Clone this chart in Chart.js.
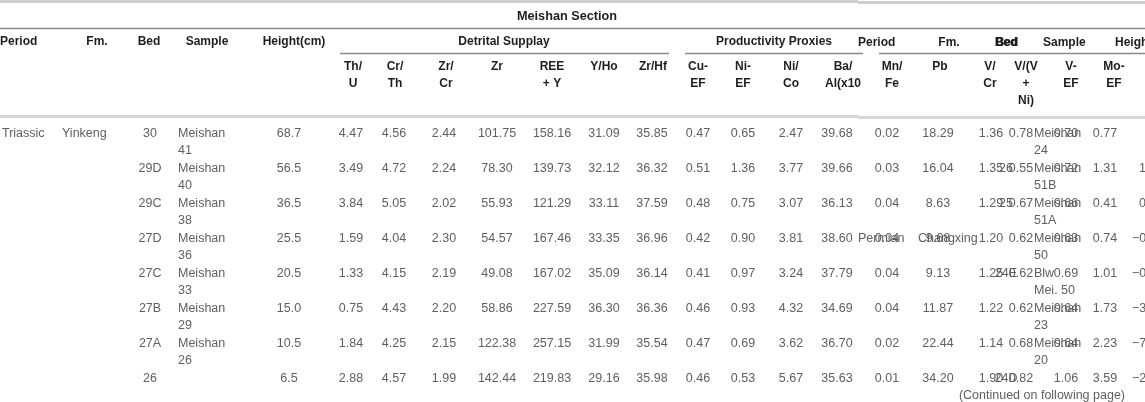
<!DOCTYPE html>
<html>
<head>
<meta charset="utf-8">
<script src="https://cdn.jsdelivr.net/npm/chart.js"></script>
<style>
  html, body { margin: 0; padding: 0; background: #fff; overflow: hidden; }
  #wrap { width: 1145px; height: 402px; }
</style>
</head>
<body>
<div id="wrap"><canvas id="meishan" width="1145" height="402"></canvas></div>
<script>
// Meishan Section - table values (read from the page)
const periods = ["Triassic", "", "", "", "", "", "", ""];
const formations = ["Yinkeng", "", "", "", "", "", "", ""];
const beds = ["30", "29D", "29C", "27D", "27C", "27B", "27A", "26"];
const samples = ["Meishan 41", "Meishan 40", "Meishan 38", "Meishan 36", "Meishan 33", "Meishan 29", "Meishan 26", ""];
const heights = ["68.7", "56.5", "36.5", "25.5", "20.5", "15.0", "10.5", "6.5"];
const thU = ["4.47", "3.49", "3.84", "1.59", "1.33", "0.75", "1.84", "2.88"];
const crTh = ["4.56", "4.72", "5.05", "4.04", "4.15", "4.43", "4.25", "4.57"];
const zrCr = ["2.44", "2.24", "2.02", "2.30", "2.19", "2.20", "2.15", "1.99"];
const zr = ["101.75", "78.30", "55.93", "54.57", "49.08", "58.86", "122.38", "142.44"];
const reeY = ["158.16", "139.73", "121.29", "167.46", "167.02", "227.59", "257.15", "219.83"];
const yHo = ["31.09", "32.12", "33.11", "33.35", "35.09", "36.30", "31.99", "29.16"];
const zrHf = ["35.85", "36.32", "37.59", "36.96", "36.14", "36.36", "35.54", "35.98"];
const cuEF = ["0.47", "0.51", "0.48", "0.42", "0.41", "0.46", "0.47", "0.46"];
const niEF = ["0.65", "1.36", "0.75", "0.90", "0.97", "0.93", "0.69", "0.53"];
const niCo = ["2.47", "3.77", "3.07", "3.81", "3.24", "4.32", "3.62", "5.67"];
const baAl = ["39.68", "39.66", "36.13", "38.60", "37.79", "34.69", "36.70", "35.63"];
const mnFe = ["0.02", "0.03", "0.04", "0.04", "0.04", "0.04", "0.02", "0.01"];
const pb = ["18.29", "16.04", "8.63", "9.68", "9.13", "11.87", "22.44", "34.20"];
const vCr = ["1.36", "1.35", "1.29", "1.20", "1.25", "1.22", "1.14", "1.90"];
const vVNi = ["0.78", "0.55", "0.67", "0.62", "0.62", "0.62", "0.68", "0.82"];
const vEF = ["0.70", "0.72", "0.66", "0.63", "0.69", "0.64", "0.64", "1.06"];
const moEF = ["0.77", "1.31", "0.41", "0.74", "1.01", "1.73", "2.23", "3.59"];

// second page block printed over the right side
const periods2 = ["", "", "", "Permian", "", "", "", ""];
const formations2 = ["", "", "", "Changxing", "", "", "", ""];
const beds2 = ["", "26", "25", "", "24E", "", "", "24D"];
const samples2 = ["Meishan 24", "Meishan 51B", "Meishan 51A", "Meishan 50", "Blw Mei. 50", "Meishan 23", "Meishan 20", ""];
const heights2 = ["", "1", "0", "−0", "−0", "−3", "−7", "−2"];

// layout: column anchor (table units) and alignment
const columns = [
  { values: periods, x: 2, align: "left" },
  { values: formations, x: 62, align: "left" },
  { values: beds, x: 150, align: "center" },
  { values: samples, x: 178, align: "left", wrap: true },
  { values: heights, x: 289, align: "center" },
  { values: thU, x: 351, align: "center" },
  { values: crTh, x: 394, align: "center" },
  { values: zrCr, x: 444, align: "center" },
  { values: zr, x: 497, align: "center" },
  { values: reeY, x: 552, align: "center" },
  { values: yHo, x: 604, align: "center" },
  { values: zrHf, x: 652, align: "center" },
  { values: cuEF, x: 698, align: "center" },
  { values: niEF, x: 743, align: "center" },
  { values: niCo, x: 791, align: "center" },
  { values: baAl, x: 837, align: "center" },
  { values: mnFe, x: 887, align: "center" },
  { values: pb, x: 938, align: "center" },
  { values: vCr, x: 991, align: "center" },
  { values: vVNi, x: 1021, align: "center" },
  { values: vEF, x: 1066, align: "center" },
  { values: moEF, x: 1105, align: "center" },
  { values: periods2, x: 858, align: "left" },
  { values: formations2, x: 918, align: "left" },
  { values: beds2, x: 1006, align: "center" },
  { values: samples2, x: 1034, align: "left", wrap: true },
  { values: heights2, x: 1139, align: "left", hang: true }
];

const headers = [
  { text: "Period", x: 0, y: 42, align: "left" },
  { text: "Fm.", x: 97, y: 42, align: "center" },
  { text: "Bed", x: 149, y: 42, align: "center" },
  { text: "Sample", x: 207, y: 42, align: "center" },
  { text: "Height(cm)", x: 294, y: 42, align: "center" },
  { text: "Detrital Supplay", x: 504, y: 42, align: "center" },
  { text: "Productivity Proxies", x: 774, y: 42, align: "center" },
  { text: "Period", x: 858, y: 43, align: "left" },
  { text: "Fm.", x: 949, y: 43, align: "center" },
  { text: "Bed", x: 1006, y: 43, align: "center" },
  { text: "Bed", x: 1007, y: 43, align: "center" },
  { text: "Sample", x: 1043, y: 43, align: "left" },
  { text: "Height(cm)", x: 1115, y: 43, align: "left" },
  { text: "Th/\nU", x: 353, y: 67, align: "center" },
  { text: "Cr/\nTh", x: 395, y: 67, align: "center" },
  { text: "Zr/\nCr", x: 446, y: 67, align: "center" },
  { text: "Zr", x: 497, y: 67, align: "center" },
  { text: "REE\n+ Y", x: 552, y: 67, align: "center" },
  { text: "Y/Ho", x: 604, y: 67, align: "center" },
  { text: "Zr/Hf", x: 653, y: 67, align: "center" },
  { text: "Cu-\nEF", x: 698, y: 67, align: "center" },
  { text: "Ni-\nEF", x: 743, y: 67, align: "center" },
  { text: "Ni/\nCo", x: 791, y: 67, align: "center" },
  { text: "Ba/\nAl(x10", x: 843, y: 67, align: "center" },
  { text: "Mn/\nFe", x: 892, y: 67, align: "center" },
  { text: "Pb", x: 940, y: 67, align: "center" },
  { text: "V/\nCr", x: 990, y: 67, align: "center" },
  { text: "V/(V\n+\nNi)", x: 1026, y: 67, align: "center" },
  { text: "V-\nEF", x: 1071, y: 67, align: "center" },
  { text: "Mo-\nEF", x: 1114, y: 67, align: "center" }
];

const rules = [
  { x1: 0, x2: 858, y: 1.5, w: 3, c: "#cfcfcf" },
  { x1: 858, x2: 1145, y: 2.5, w: 3, c: "#cfcfcf" },
  { x1: 0, x2: 1145, y: 28.5, w: 1.5, c: "#8a8a8a" },
  { x1: 340, x2: 669, y: 53.5, w: 1.5, c: "#8a8a8a" },
  { x1: 685, x2: 863, y: 53.5, w: 1.5, c: "#8a8a8a" },
  { x1: 879, x2: 1145, y: 53.5, w: 1.5, c: "#8a8a8a" },
  { x1: 0, x2: 858, y: 116.5, w: 3, c: "#d6d6d6" },
  { x1: 858, x2: 1145, y: 117.5, w: 3, c: "#d6d6d6" }
];

const rowTop = 134, rowStep = 35, lineStep = 17;
const dataFont = "12.5px 'Liberation Sans', Arial, sans-serif";
const headFont = "bold 12px 'Liberation Sans', Arial, sans-serif";
const titleFont = "bold 12.7px 'Liberation Sans', Arial, sans-serif";

const datasets = columns.map(col => ({
  data: col.values.map((v, i) => ({ x: col.x, y: rowTop + rowStep * i })),
  texts: col.values,
  align: col.align,
  wrap: !!col.wrap,
  hang: !!col.hang,
  pointRadius: 0,
  showLine: false
}));

const tableText = {
  id: "tableText",
  afterDatasetsDraw(chart) {
    const ctx = chart.ctx;
    const xs = chart.scales.x, ys = chart.scales.y;
    ctx.save();
    rules.forEach(r => {
      ctx.beginPath();
      ctx.strokeStyle = r.c;
      ctx.lineWidth = r.w;
      ctx.moveTo(xs.getPixelForValue(r.x1), ys.getPixelForValue(r.y));
      ctx.lineTo(xs.getPixelForValue(r.x2), ys.getPixelForValue(r.y));
      ctx.stroke();
    });
    ctx.textBaseline = "middle";
    ctx.fillStyle = "#1e1e1e";
    ctx.font = titleFont;
    ctx.textAlign = "center";
    ctx.fillText("Meishan Section", xs.getPixelForValue(567), ys.getPixelForValue(16));
    ctx.font = headFont;
    headers.forEach(h => {
      ctx.textAlign = h.align;
      h.text.split("\n").forEach((line, k) => {
        ctx.fillText(line, xs.getPixelForValue(h.x), ys.getPixelForValue(h.y + lineStep * k));
      });
    });
    ctx.font = dataFont;
    ctx.fillStyle = "#606060";
    chart.data.datasets.forEach((ds, di) => {
      const meta = chart.getDatasetMeta(di);
      ctx.textAlign = ds.align;
      meta.data.forEach((el, i) => {
        const t = ds.texts[i];
        if (!t) return;
        let lines = [t];
        if (ds.wrap) {
          const sp = t.indexOf(" ");
          if (sp > 0) lines = [t.slice(0, sp), t.slice(sp + 1)];
        }
        let x = el.x;
        if (ds.hang && t.startsWith("−")) x -= 7;
        lines.forEach((line, k) => ctx.fillText(line, x, el.y + lineStep * k));
      });
    });
    ctx.textAlign = "right";
    ctx.fillText("(Continued on following page)", xs.getPixelForValue(1125), ys.getPixelForValue(396));
    ctx.restore();
  }
};

new Chart(document.getElementById("meishan").getContext("2d"), {
  type: "scatter",
  data: { datasets: datasets },
  options: {
    responsive: false,
    animation: false,
    events: [],
    layout: { padding: 0 },
    plugins: { legend: { display: false }, tooltip: { enabled: false } },
    scales: {
      x: { type: "linear", min: 0, max: 1145, display: false },
      y: { type: "linear", min: 0, max: 402, reverse: true, display: false }
    }
  },
  plugins: [tableText]
});
</script>
</body>
</html>
